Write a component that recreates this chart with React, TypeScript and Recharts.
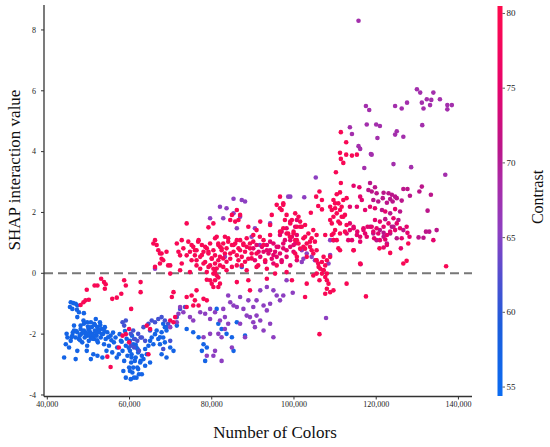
import React from 'react';
import { ScatterChart, Scatter, XAxis, YAxis, ReferenceLine } from 'recharts';

// x values in thousands of colors, y = SHAP interaction value
const xTicks = [40, 60, 80, 100, 120, 140];
const yTicks = [-4, -2, 0, 2, 4, 6, 8];
const colorTicks = [55, 60, 65, 70, 75, 80];
const contrastMin = 54.4;
const contrastMax = 80.5;

type P = [number, number];

const bluePoints: P[] = [
  [45.7,-0.95],[46.3,-0.98],[46.9,-1.0],[47.3,-1.06],[45.5,-1.11],[46.1,-1.17],[47.2,-1.2],[47.7,-1.28],[48.9,-1.31],[47.3,-1.44],[49.7,-1.61],[48.8,-1.55],
  [44.1,-2.77],[44.5,-2.33],[44.9,-2.11],[44.7,-1.99],[45.3,-2.44],[45.7,-2.22],[46.1,-2.05],[46.5,-1.88],[46.9,-2.11],[47.3,-1.94],[47.3,-2.55],[47.7,-2.16],[48.1,-1.83],[48.3,-1.99],[48.5,-2.27],[48.9,-1.88],[49.1,-2.11],[49.3,-1.94],[49.6,-2.55],[49.7,-2.05],[50.0,-1.83],[50.1,-2.22],[50.4,-1.94],[50.6,-2.11],[50.8,-1.77],[51.0,-1.99],[51.2,-2.66],[51.4,-1.66],[51.4,-2.16],[51.6,-1.88],[51.8,-1.5],[52.0,-2.05],[52.2,-1.77],[52.3,-2.27],[52.6,-1.94],[52.8,-1.61],[53.0,-2.11],[53.2,-1.83],[53.4,-2.77],[53.6,-1.99],[53.8,-2.33],[54.0,-1.77],[54.2,-2.16],[54.4,-2.55],[54.6,-1.94],[55.0,-2.38],[55.4,-2.05],[55.8,-2.6],[56.2,-2.27],[56.6,-2.11],[56.9,-2.77],[57.0,-2.44],[57.4,-2.66],[57.9,-2.22],[58.3,-2.55],[58.7,-2.88],[59.1,-2.38],[59.5,-2.71],[59.9,-3.1],[60.1,-2.55],[60.4,-2.93],[60.7,-3.26],[61.1,-3.43],[61.5,-2.77],[61.9,-3.1],[62.3,-3.32],[62.7,-2.88],[59.1,-3.43],[60.3,-3.48],[58.5,-3.21],[48.1,-1.72],[50.6,-1.61],[46.5,-1.72],[48.9,-1.66],[46.9,-2.82],[50.6,-2.82],[52.2,-2.71],[49.7,-2.38],
  [47.0,-1.9],[47.9,-2.05],[48.6,-1.95],[49.4,-2.0],[50.2,-1.9],[51.2,-2.05],[52.5,-1.85],[53.3,-2.0],[51.9,-1.95],[50.9,-2.15],[49.9,-1.75],[53.9,-1.9],[46.2,-1.95],[45.9,-2.1],[48.0,-2.2],[52.9,-1.7],[54.8,-2.1],[55.6,-2.2],[56.0,-1.95],[51.6,-1.7],[50.3,-2.0],[52.1,-2.2],[57.6,-2.0],[58.1,-2.25],[59.3,-2.15],[60.6,-2.05],[61.5,-2.35],[62.0,-2.5],[59.8,-2.45],[58.9,-1.9],
  [60.1,-2.22],[60.9,-2.33],[61.7,-2.44],[60.5,-2.66],[62.1,-2.6],[63.0,-2.71],[61.3,-2.88],[62.6,-2.93],[63.4,-2.82],[60.9,-3.1],[62.1,-3.15],[63.0,-3.32],[61.7,-3.43],[60.1,-3.21],[63.8,-2.49],[64.2,-2.66],[64.6,-2.38],[65.0,-2.22],[65.4,-2.11],[65.8,-2.33],[66.2,-2.0],[66.6,-1.88],[67.0,-2.16],[67.4,-2.33],[67.8,-1.94],[68.2,-2.11],[68.6,-1.77],[69.0,-1.88],[65.0,-2.93],[63.8,-3.04],[60.5,-2.77],[61.3,-2.16],
  [68.2,-1.66],[69.0,-1.77],[67.4,-2.1],[68.6,-2.27],[69.9,-2.44],[70.7,-2.55],[67.8,-2.66],[69.0,-2.77],[71.5,-1.72],[73.9,-1.83],[75.5,-1.94],[76.8,-2.1],[78.0,-2.33],[78.8,-2.44],[77.6,-2.55],[81.6,-1.66],[82.4,-1.83],[83.6,-1.99],[84.9,-2.1],[86.1,-1.61],[85.3,-2.55],[78.4,-2.88],[88.1,-2.05],[81.2,-1.17],
];

const violetPoints: P[] = [
  [58.3,-1.61],[59.1,-1.55],[58.7,-1.72],[60.3,-1.99],[61.1,-2.16],[61.9,-2.22],[62.7,-2.11],[61.1,-2.44],[62.3,-2.55],[60.3,-2.38],
  [63.4,-1.77],[64.6,-1.66],[65.4,-1.55],[66.2,-1.61],[67.0,-1.5],[67.8,-1.44],[68.6,-1.55],[69.4,-1.66],[60.9,-1.88],[62.1,-1.99],[63.0,-2.11],[63.8,-2.22],[68.2,-2.49],[69.9,-2.22],[65.0,-1.88],[71.5,-1.44],[72.3,-1.17],[73.5,-1.11],
  [87.3,0.21],
];

const purplePoints: P[] = [
  [72.3,-1.11],[73.1,-1.28],[71.9,-1.33],[71.5,-1.61],[69.9,-1.77],[79.6,-1.17],[80.8,-1.28],[82.0,-1.55],[83.2,-1.44],[84.5,-0.95],[85.3,-1.06],[86.9,-0.78],[87.7,-1.17],[88.9,-0.89],[89.3,-1.44],[90.1,-1.11],[90.9,-0.89],[91.8,-1.55],[92.6,-1.06],[93.4,-1.22],[94.2,-1.66],[95.0,-0.56],[95.8,-0.73],[96.6,-0.89],[91.8,-0.56],[93.4,-0.45],[90.5,-1.77],[92.6,-1.88],[88.1,-2.1],[95.0,-2.1],[90.1,-1.61],[86.1,-1.11],[82.8,-1.17],[84.0,-0.73],[75.5,-1.55],[74.7,-1.44],[77.2,-1.28],[78.4,-1.33],[80.8,-2.55],[82.4,-2.88],[78.8,-2.71],[80.4,-2.71],[78.0,-2.1],[79.6,-1.99],[81.6,-1.99],[84.9,-2.44],[83.2,-1.83],[82.4,-2.1],[84.0,-1.66],[86.9,-1.66],[88.5,-1.39],[90.9,-1.39],[94.2,-1.0],[79.6,-1.5],
  [97.4,-0.73],[99.7,-0.64],[98.2,-0.23],[107.8,-1.47],[101.9,0.76],[103.1,0.65],[104.3,0.54],[105.1,0.43],[108.8,0.6],[108.4,0.32],[66.2,0.15],[82.0,2.19],[87.3,2.41],[88.1,2.36],[98.6,2.52],[102.5,2.5],[105.3,3.15],
  [85.3,2.45],[83.6,2.14],[79.6,1.81],[82.8,1.81],[85.3,1.97],[86.9,1.86],[86.1,1.48],[90.5,1.48],[89.7,1.2],[91.7,0.93],[94.2,1.64],[99.1,2.52],[83.2,0.54],
  [108.8,1.09],[109.6,1.09],[101.9,0.37],[102.3,0.48],
];

const orchidPoints: P[] = [
  [129.9,6.05],[130.7,5.94],[133.9,5.94],[132.3,5.72],[133.4,5.7],[135.5,5.72],[131.1,5.61],[133.1,5.53],[137.3,5.53],[138.4,5.53],[137.3,5.39],[131.5,5.42],[127.5,5.61],[124.6,5.5],[126.2,5.42],[120.0,4.89],[120.9,4.84],[131.2,4.87],[120.3,4.45],[125.0,4.67],[124.6,4.56],[126.6,4.49],[118.9,3.9],[124.2,3.59],[128.5,3.49],[136.8,3.24],[117.5,5.5],[118.3,5.37],[113.6,4.8],[114.1,4.58],[117.7,4.89],[115.7,4.18],[116.1,4.09],[118.7,3.92],[117.1,3.46],[115.7,8.3],
];

const magentaPoints: P[] = [
  [118.5,2.97],[119.7,2.83],[118.9,2.69],[120.1,2.63],[121.8,2.65],[123.0,2.63],[123.8,2.58],[124.6,2.52],[126.6,2.77],[127.6,2.77],[128.2,2.55],[130.5,2.69],[131.1,2.85],[133.3,2.58],[119.3,2.41],[120.5,2.36],[121.6,2.47],[122.6,2.32],[123.4,2.44],[124.0,2.36],[125.0,2.47],[126.2,2.39],
  [121.4,2.08],[123.4,1.97],[125.8,2.03],[132.5,2.06],[122.2,1.78],[125.4,1.75],[123.8,1.53],[126.6,1.42],[121.8,1.33],[132.1,1.37],[132.9,1.37],[134.7,1.42],[130.3,1.18],[131.5,1.17],[118.1,2.74],
  [118.5,1.53],[119.3,1.31],[120.1,1.09],[120.9,1.42],[121.8,1.2],[122.6,0.98],[123.4,1.31],[124.2,1.53],[125.0,1.15],
];

const pinkRedPoints: P[] = [
  [118.5,2.19],[119.7,2.14],[122.2,2.03],[124.6,2.11],[119.7,1.75],[120.9,1.7],[123.0,1.64],[124.2,1.81],[125.0,1.64],[118.9,1.53],[120.1,1.48],[121.8,1.53],[124.6,1.42],[125.8,1.48],[127.4,1.53],[119.3,1.37],[120.5,1.31],[122.6,1.26],[123.4,1.37],[126.2,1.15],[127.6,1.33],[128.1,1.2],[133.9,1.09],[120.9,1.09],[122.2,1.11],[119.5,1.15],[122.6,0.93],[121.8,0.85],[126.0,0.82],
  [113.6,2.19],[114.5,2.88],[115.9,2.83],[115.3,2.19],[116.1,2.52],[116.5,2.41],[117.3,2.08],[113.6,1.42],[114.1,1.09],[114.5,1.53],[115.4,1.37],[116.1,1.2],[116.9,1.48],[117.3,1.31],[117.9,1.53],[114.5,0.76],[116.2,0.3],
  [90.1,0.82],[90.5,0.43],[90.9,0.93],[91.4,0.71],[91.8,0.54],[92.2,0.87],[92.6,0.71],[93.0,0.37],[93.4,0.93],[93.8,0.65],[94.2,0.76],[94.6,0.48],[95.0,0.98],[95.4,0.71],[95.8,0.54],[96.2,0.87],[96.6,0.65],[97.0,0.37],[97.4,0.82],[97.8,1.09],[98.2,0.54],[99.1,0.87],[99.5,1.2],[99.9,0.71],[100.3,0.98],[100.7,0.43],
  [93.4,0.76],[94.2,1.04],[95.0,0.6],[95.8,0.87],[96.6,1.26],[97.4,0.98],[98.2,0.76],[99.1,1.09],[99.9,0.93],[100.7,1.26],[95.0,0.32],[97.0,0.43],[99.1,0.26],[100.3,1.53],[98.2,1.48],[97.0,1.37],[99.1,1.7],[100.7,1.75],
  [112.8,1.31],[113.2,1.09],[113.6,1.64],[114.5,1.48],[115.3,1.26],[116.1,1.04],[116.9,1.42],[117.7,1.2],
];

const redPoints: P[] = [
  [48.1,-1.04],[48.8,-0.95],[49.3,-0.89],[49.6,-0.54],[50.1,-0.87],[51.5,-0.4],[52.2,-0.4],[53.1,-0.18],[53.8,-0.29],[54.2,-0.36],[54.0,-0.51],[55.8,-0.84],[56.9,-0.8],[58.0,-0.67],[58.7,-0.23],[59.1,-0.4],[60.4,-1.17],[62.7,-0.29],[62.7,-0.62],[59.9,-1.83],[59.1,-2.0],[58.3,-2.05],[57.4,-2.44],[54.6,-2.74],[55.4,-3.08],[59.9,-2.27],
  [66.2,0.21],[67.4,0.32],[69.4,0.26],[69.9,-1.55],[64.2,-1.72],[64.6,-2.66],[65.0,-1.83],[66.2,1.09],[66.6,0.93],[67.0,0.76],[67.8,0.65],[67.8,0.48],[65.8,0.98],[72.3,0.59],[72.7,0.32],
  [73.9,1.64],[79.2,1.51],[84.5,1.75],[84.9,1.92],[85.7,1.7],[86.1,2.08],[86.9,1.92],[88.9,1.53],[90.1,1.26],[90.9,1.42],[91.8,1.7],[92.6,1.09],[94.2,1.59],[95.8,2.25],[96.6,2.14],[97.4,2.25],[97.8,1.75],[99.1,1.64],[82.0,0.87],[98.6,1.31],[94.2,1.26],
  [86.5,1.75],[94.6,1.92],[80.4,1.64],
  [67.4,0.65],[68.2,0.43],[69.0,0.71],[69.9,0.26],[71.5,0.98],[71.9,0.71],[72.7,1.09],[73.1,0.82],[73.9,0.59],[74.3,1.04],[74.7,0.71],[75.1,0.43],[75.5,0.87],[75.9,0.59],[76.3,0.76],[76.8,1.09],[77.2,0.54],[77.6,0.93],[78.0,0.71],[78.4,0.37],[78.8,0.82],[79.2,0.65],[79.6,0.98],[80.0,0.48],[80.4,0.76],[80.8,0.59],[81.2,1.2],[81.6,0.93],[82.0,0.54],[82.4,0.76],[82.8,0.98],[83.2,0.65],[83.6,0.82],[84.0,1.15],[84.5,0.48],[84.9,0.93],[85.3,0.71],[85.7,0.98],[86.1,0.59],[86.5,0.82],[86.9,1.09],[87.3,0.54],[87.7,0.93],[88.1,0.71],[88.5,0.87],[88.9,0.48],[89.3,0.98],[89.7,0.65],
  [75.1,0.93],[75.9,0.76],[76.7,1.04],[77.6,0.6],[78.4,0.87],[79.2,0.71],[80.0,0.49],[80.8,1.15],[81.6,0.98],[82.4,0.82],[83.2,1.2],[84.0,1.04],[84.5,0.65],[85.3,0.93],[86.1,1.09],[86.9,0.76],[87.7,0.98],[88.5,1.15],[89.3,0.82],[90.1,1.04],[90.9,0.65],[91.7,1.2],[92.6,0.93],
  [80.8,0.32],[81.2,0.16],[80.4,-0.01],[81.6,0.43],[82.0,0.26],[82.8,0.49],[83.6,0.38],[79.2,0.21],[78.0,0.32],[76.3,0.43],[86.5,0.43],[88.1,0.38],[89.7,0.49],[91.3,0.26],[93.0,0.43],
  [69.9,-0.01],[72.3,0.1],[74.7,0.04],[77.2,0.15],[79.6,0.26],[80.4,0.15],[80.8,0.04],[81.2,-0.07],[81.6,-0.14],[80.8,-0.23],[80.0,-0.34],[82.0,-0.34],[80.4,-0.45],[81.6,-0.45],[79.6,-0.23],[78.8,0.04],[76.3,0.26],[83.6,0.1],[86.1,0.26],[88.5,0.1],[90.9,0.21],[93.4,0.15],[95.8,0.26],[98.2,0.04],[78.8,-0.21],[82.8,0.21],[84.9,0.21],[87.3,0.26],
  [70.7,-0.62],[70.3,-0.78],[73.9,-0.78],[75.1,-0.73],[75.9,-0.89],[75.5,-1.06],[73.9,-1.11],[71.1,-1.44],[70.7,-1.61],[76.8,-1.06],[78.0,-0.84],[78.8,-0.89],[76.3,-0.56],[86.1,-0.29],[88.9,-0.23],[93.4,-0.18],[89.3,-0.56],[95.4,-0.01],[99.5,-0.23],
  [96.6,2.52],[97.4,2.3],[97.0,2.08],[98.2,1.92],[99.5,1.75],[100.3,1.97],[101.1,1.86],[101.5,1.7],[100.7,1.53],[101.9,1.53],[102.7,1.59],[99.9,1.37],[98.2,1.31],[97.4,1.48],[96.6,1.37],[99.0,1.2],[100.3,1.09],[101.1,0.98],[102.3,1.15],[103.1,0.98],[103.9,0.87],[102.7,0.81],[101.5,0.81],[104.3,1.15],[103.5,1.31],[105.1,1.04],[105.5,0.76],[104.7,0.65],[105.4,0.43],[105.9,0.32],[106.4,0.15],[106.8,-0.01],[107.2,0.1],[107.6,-0.12],[108.0,-0.23],[108.4,-0.34],[106.2,-0.23],[105.5,-0.01],[104.7,-0.07],[103.1,-0.34],[102.7,-0.78],[108.0,-0.51],[108.8,-0.62],[107.6,-0.67],[109.6,-0.56],[112.8,-0.34],[117.5,-0.76],[106.2,-2.0],[107.2,0.54],[108.8,0.54],[108.0,0.43],[100.7,0.54],[105.5,1.26],[107.6,1.26],[104.1,1.99],
  [99.9,1.31],[100.7,1.09],[101.5,1.53],[102.3,0.87],[100.3,0.65],[102.7,1.2],[103.9,1.04],[104.3,0.76],[103.1,0.54],[104.7,1.42],[105.5,0.43],[106.0,0.21],[106.8,0.37],[107.2,0.1],[107.6,0.26],[108.0,-0.01],[108.8,1.75],[109.2,2.08],[110.0,2.3],[110.4,1.97],[111.2,1.64],[111.6,2.19],[112.0,1.86],[109.6,1.31],[110.4,1.09],[111.2,0.76],
  [106.2,2.69],[105.4,2.52],[106.8,2.41],[105.9,2.21],[106.8,2.1],[108.8,2.19],[109.6,2.41],[110.4,2.6],[111.2,2.66],[110.8,2.3],[110.0,2.14],[111.2,2.08],[112.0,2.41],[112.8,2.47],[111.6,1.86],[109.6,1.86],[109.2,1.64],[110.8,1.7],[112.4,1.92],[112.8,1.59],[109.2,1.26],[110.0,1.42],[111.2,1.31],[112.4,1.37],[110.8,0.82],[109.6,1.09],
  [114.5,0.76],[116.1,0.32],
  [111.4,4.64],[112.7,4.31],[111.2,3.96],[111.4,3.76],[112.0,3.63],[112.7,3.9],[114.1,3.87],[115.3,3.9],[110.2,3.32],[111.4,2.97],
  [120.8,0.82],[123.4,0.67],[126.6,0.32],[127.4,0.41],[137.0,0.23],[127.8,0.98],
];

const groups = [
  { key: 'blue', contrast: 57, points: bluePoints },
  { key: 'violet', contrast: 61.5, points: violetPoints },
  { key: 'purple', contrast: 65.5, points: purplePoints },
  { key: 'orchid', contrast: 68, points: orchidPoints },
  { key: 'magenta', contrast: 71, points: magentaPoints },
  { key: 'pinkred', contrast: 75, points: pinkRedPoints },
  { key: 'red', contrast: 79, points: redPoints },
];

const cmapStops: [number, string][] = [
  [0, '#0b6cf2'],
  [0.18, '#1c5ddc'],
  [0.3, '#4f4fd0'],
  [0.42, '#8c40c2'],
  [0.55, '#aa2aa6'],
  [0.63, '#b9168b'],
  [0.8, '#e8036a'],
  [1, '#ff0a4c'],
];

function hexToRgb(h: string) {
  return [parseInt(h.slice(1, 3), 16), parseInt(h.slice(3, 5), 16), parseInt(h.slice(5, 7), 16)];
}

function colorFor(c: number) {
  const t = Math.max(0, Math.min(1, (c - contrastMin) / (contrastMax - contrastMin)));
  for (let i = 0; i < cmapStops.length - 1; i++) {
    const [t0, c0] = cmapStops[i];
    const [t1, c1] = cmapStops[i + 1];
    if (t >= t0 && t <= t1) {
      const f = (t - t0) / (t1 - t0);
      const a = hexToRgb(c0);
      const b = hexToRgb(c1);
      const r = a.map((v, k) => Math.round(v + (b[k] - v) * f));
      return `rgb(${r[0]},${r[1]},${r[2]})`;
    }
  }
  return cmapStops[cmapStops.length - 1][1];
}

const FONT = '"Liberation Serif", "Times New Roman", serif';

const CB_X = 497.5;
const CB_TOP = 6;
const CB_H = 390;
const cbY = (c: number) => CB_TOP + ((contrastMax - c) / (contrastMax - contrastMin)) * CB_H;

function makeDot(color: string) {
  return (props: any) => {
    const { cx, cy } = props;
    if (cx == null || cy == null) return <g />;
    return <circle cx={cx} cy={cy} r={2.3} fill={color} />;
  };
}

const XTick = (props: any) => {
  const { x, y, payload } = props;
  return (
    <text x={x} y={y} dy="0.71em" textAnchor="middle" fontSize={8} fontFamily={FONT} fill="#222">
      {(payload.value * 1000).toLocaleString('en-US')}
    </text>
  );
};

const YTick = (props: any) => {
  const { x, y, payload } = props;
  return (
    <text x={x} y={y} dy="0.355em" textAnchor="end" fontSize={8} fontFamily={FONT} fill="#222">
      {payload.value}
    </text>
  );
};

export default function App() {
  return (
    <div style={{ position: 'absolute', left: 0, top: 0, width: 550, height: 447, background: '#fff' }}>
      <ScatterChart width={550} height={447} margin={{ top: 5, right: 78, bottom: 0, left: 0 }}>
        <XAxis
          type="number"
          dataKey="x"
          domain={[39.2, 143.3]}
          ticks={xTicks}
          allowDataOverflow
          height={50.5}
          axisLine={{ stroke: '#333', strokeWidth: 1.3 }}
          tickLine={{ stroke: '#333' }}
          tickSize={3}
          tickMargin={2}
          tick={<XTick />}
        />
        <YAxis
          type="number"
          dataKey="y"
          domain={[-4.05, 8.82]}
          ticks={yTicks}
          allowDataOverflow
          width={44}
          axisLine={{ stroke: '#333', strokeWidth: 1.3 }}
          tickLine={{ stroke: '#333' }}
          tickSize={3}
          tickMargin={5}
          tick={<YTick />}
        />
        {groups.map((g) => (
          <Scatter
            key={g.key}
            data={g.points.map(([x, y]) => ({ x, y }))}
            fill={colorFor(g.contrast)}
            shape={makeDot(colorFor(g.contrast))}
            isAnimationActive={false}
          />
        ))}
        <ReferenceLine y={0} stroke="#777" strokeWidth={2} strokeDasharray="9 5" />
      </ScatterChart>
      <svg width={550} height={447} style={{ position: 'absolute', left: 0, top: 0, pointerEvents: 'none' }}>
        <defs>
          <linearGradient id="cbar" x1="0" y1="1" x2="0" y2="0">
            {cmapStops.map(([t, c]) => (
              <stop key={t} offset={`${t * 100}%`} stopColor={c} />
            ))}
          </linearGradient>
        </defs>
        <rect x={CB_X} y={CB_TOP} width={5} height={CB_H} fill="url(#cbar)" />
        {colorTicks.map((c) => (
          <g key={c}>
            <line x1={CB_X + 5} x2={CB_X + 7.5} y1={cbY(c)} y2={cbY(c)} stroke="#333" strokeWidth={0.8} />
            <text x={CB_X + 9} y={cbY(c)} fontSize={9} fontFamily={FONT} fill="#222" dominantBaseline="central">
              {c}
            </text>
          </g>
        ))}
        <text
          x={14}
          y={170}
          transform="rotate(-90 14 170)"
          textAnchor="middle"
          dominantBaseline="central"
          fontSize={17}
          fontFamily={FONT}
          fill="#111"
        >
          SHAP interaction value
        </text>
        <text x={275} y={438} textAnchor="middle" fontSize={17} fontFamily={FONT} fill="#111">
          Number of Colors
        </text>
        <text
          x={537}
          y={197}
          transform="rotate(-90 537 197)"
          textAnchor="middle"
          dominantBaseline="central"
          fontSize={16}
          fontFamily={FONT}
          fill="#111"
        >
          Contrast
        </text>
      </svg>
    </div>
  );
}
